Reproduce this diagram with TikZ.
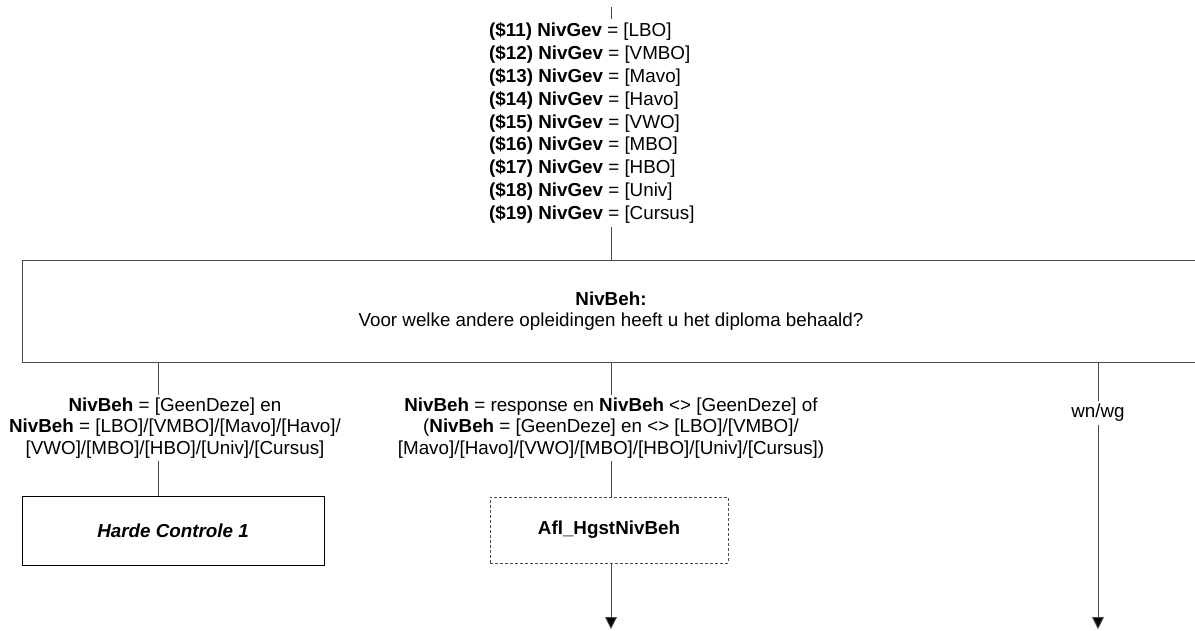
\documentclass[tikz,border=0pt]{standalone}
\usepackage{fontspec}
\setmainfont{Liberation Sans}
\usetikzlibrary{arrows.meta}

\begin{document}
\begin{tikzpicture}[x=1pt, y=-1pt,
    line/.style={draw=black!70, line width=0.9pt},
    arr/.style={line, -{Triangle[length=12pt, width=12pt, fill=black]}},
    lbl/.style={align=center, inner sep=3pt, font=\fontsize{18.8}{21.5}\selectfont},
    qbox/.style={draw=black!70, line width=0.9pt, minimum width=1178pt, minimum height=102pt,
        align=center, font=\fontsize{18.8}{21.5}\selectfont},
    checkbox/.style={draw=black, line width=0.8pt, minimum width=302pt, minimum height=69pt,
        font=\fontsize{18.8}{20}\selectfont\bfseries\itshape},
    routebox/.style={draw=black!70, line width=0.8pt, densely dashed, minimum width=238pt,
        minimum height=66pt, font=\fontsize{18.8}{20}\selectfont\bfseries}]
    \useasboundingbox (0, 0) rectangle (1195, 630);

    \coordinate (top) at (611, 7);
    \node[lbl, align=left, anchor=west, font=\fontsize{18.8}{22.9}\selectfont] (gev) at (486, 123)
        {\textbf{(\$11) NivGev} = [LBO]\\ \textbf{(\$12) NivGev} = [VMBO]\\ \textbf{(\$13) NivGev} = [Mavo]\\
         \textbf{(\$14) NivGev} = [Havo]\\ \textbf{(\$15) NivGev} = [VWO]\\ \textbf{(\$16) NivGev} = [MBO]\\
         \textbf{(\$17) NivGev} = [HBO]\\ \textbf{(\$18) NivGev} = [Univ]\\ \textbf{(\$19) NivGev} = [Cursus]};

    \node[qbox] (nivbeh) at (611, 311)
        {\textbf{NivBeh:}\\ Voor welke andere opleidingen heeft u het diploma behaald?};

    % branches
    \coordinate (ca) at (158, 0);
    \coordinate (cb) at (611, 0);
    \coordinate (cc) at (1098, 0);
    \node[lbl] (lblA) at (175, 428)
        {\textbf{NivBeh} = [GeenDeze] en\\ \textbf{NivBeh} = [LBO]/[VMBO]/[Mavo]/[Havo]/\\{}[VWO]/[MBO]/[HBO]/[Univ]/[Cursus]};
    \node[lbl] (lblB) at (611, 428)
        {\textbf{NivBeh} = response en \textbf{NivBeh} <> [GeenDeze] of\\ (\textbf{NivBeh} = [GeenDeze] en <> [LBO]/[VMBO]/\\{}[Mavo]/[Havo]/[VWO]/[MBO]/[HBO]/[Univ]/[Cursus])};
    \node[lbl] (lblC) at (1098, 413) {wn/wg};

    \node[checkbox] (hc) at (173, 530.5) {Harde Controle 1};
    \node[routebox] (afl) at (609, 530) {Afl\_HgstNivBeh};
    \coordinate (endB) at (611, 629);
    \coordinate (endC) at (1098, 629);

    \draw[line] (top) -- (top |- gev.north);
    \draw[line] (top |- gev.south) -- (top |- nivbeh.north);
    \draw[line] (nivbeh.south -| ca) -- (lblA.north -| ca);
    \draw[line] (lblA.south -| ca) -- (hc.north -| ca);
    \draw[line] (nivbeh.south -| cb) -- (lblB.north -| cb);
    \draw[line] (lblB.south -| cb) -- (afl.north -| cb);
    \draw[arr] (afl.south -| cb) -- (endB);
    \draw[line] (nivbeh.south -| cc) -- (lblC.north -| cc);
    \draw[arr] (lblC.south -| cc) -- (endC);
\end{tikzpicture}
\end{document}
